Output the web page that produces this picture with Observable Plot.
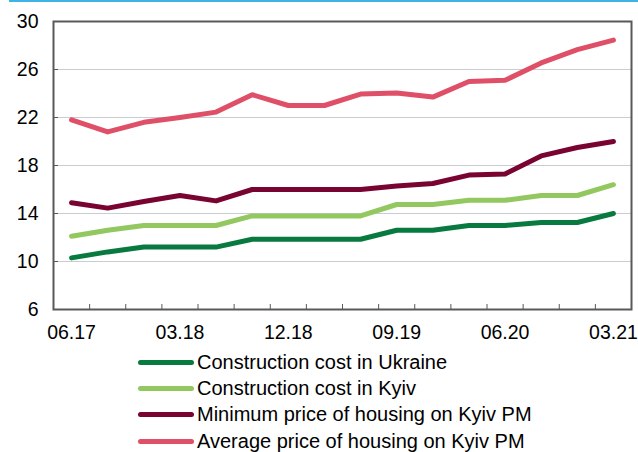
<!DOCTYPE html>
<html>
<head>
<meta charset="utf-8">
<script src="https://cdn.jsdelivr.net/npm/d3@7"></script>
<script src="https://cdn.jsdelivr.net/npm/@observablehq/plot@0.6"></script>
<style>
  html, body { margin: 0; padding: 0; background: #fff; }
  body { width: 638px; height: 452px; overflow: hidden; position: relative; font-family: "Liberation Sans", Arial, sans-serif; }
  #topline { position: absolute; left: 9px; right: 0; top: 0; height: 2px; background: #3db3e6; }
  #chart { position: absolute; left: 0; top: 0; }
  #legend { position: absolute; left: 138px; top: 349px; font-size: 20px; color: #000; }
  .row { display: flex; align-items: center; height: 26.3px; white-space: nowrap; }
  .sw { width: 56px; height: 5px; border-radius: 3px; margin-right: 3px; }
</style>
</head>
<body>
<div id="topline"></div>
<div id="chart"></div>
<div id="legend"></div>
<script>
const quarters = ["06.17","09.17","12.17","03.18","06.18","09.18","12.18","03.19","06.19","09.19","12.19","03.20","06.20","09.20","12.20","03.21"];
const tickLabels = ["06.17","03.18","12.18","09.19","06.20","03.21"];
const yTicks = [6, 10, 14, 18, 22, 26, 30];
const gridValues = [10, 14, 18, 22, 26];

const seriesNames = [
  "Construction cost in Ukraine",
  "Construction cost in Kyiv",
  "Minimum price of housing on Kyiv PM",
  "Average price of housing on Kyiv PM"
];
const seriesColors = ["#087a40", "#92c85f", "#7a0431", "#df4f67"];

const costUkraine = [10.3, 10.8, 11.2, 11.2, 11.2, 11.85, 11.85, 11.85, 11.85, 12.6, 12.6, 13.0, 13.0, 13.25, 13.25, 14.0];
const costKyiv    = [12.1, 12.6, 13.0, 13.0, 13.0, 13.8, 13.8, 13.8, 13.8, 14.75, 14.75, 15.1, 15.1, 15.5, 15.5, 16.4];
const minPrice    = [14.9, 14.45, 15.0, 15.5, 15.05, 16.0, 16.0, 16.0, 16.0, 16.3, 16.5, 17.2, 17.3, 18.8, 19.5, 20.0];
const avgPrice    = [21.8, 20.8, 21.6, 22.0, 22.45, 23.9, 23.0, 23.0, 23.95, 24.05, 23.7, 25.0, 25.1, 26.55, 27.65, 28.45];

const allSeries = [costUkraine, costKyiv, minPrice, avgPrice];
const data = [];
allSeries.forEach((vals, s) => vals.forEach((v, i) => data.push({i, v, s: seriesNames[s]})));

const boundaries = d3.range(0.5, quarters.length - 1, 1);
const labelIdx = tickLabels.map(l => quarters.indexOf(l));

const chart = Plot.plot({
  width: 638,
  height: 345,
  marginTop: 21,
  marginBottom: 36,
  marginLeft: 53,
  marginRight: 7,
  style: {fontFamily: "Liberation Sans, Arial, sans-serif", fontSize: "19.5px", color: "#000", background: "transparent"},
  x: {domain: [-0.5, quarters.length - 0.5]},
  y: {domain: [6, 30]},
  color: {domain: seriesNames, range: seriesColors},
  marks: [
    Plot.gridY(gridValues, {stroke: "#c9cdd2", strokeOpacity: 1, strokeWidth: 1.2}),
    Plot.axisY({ticks: yTicks, tickSize: 0, tickPadding: 15, label: null, fill: "#000"}),
    Plot.axisY({ticks: gridValues, tickSize: -5, tickFormat: () => "", label: null, stroke: "#595959"}),
    Plot.axisX({ticks: labelIdx, tickSize: 0, tickPadding: 16, tickFormat: i => quarters[i], label: null, fill: "#000"}),
    Plot.axisX({ticks: boundaries, tickSize: -5, tickFormat: () => "", label: null, stroke: "#595959"}),
    Plot.line(data, {x: "i", y: "v", z: "s", stroke: "s", strokeWidth: 5, strokeLinecap: "round", strokeLinejoin: "round"}),
    Plot.frame({stroke: "#595959", strokeWidth: 2})
  ]
});
document.getElementById("chart").appendChild(chart);

const legend = document.getElementById("legend");
seriesNames.forEach((n, k) => {
  const row = document.createElement("div");
  row.className = "row";
  const sw = document.createElement("div");
  sw.className = "sw";
  sw.style.background = seriesColors[k];
  const t = document.createElement("span");
  t.textContent = n;
  row.appendChild(sw);
  row.appendChild(t);
  legend.appendChild(row);
});
</script>
</body>
</html>
